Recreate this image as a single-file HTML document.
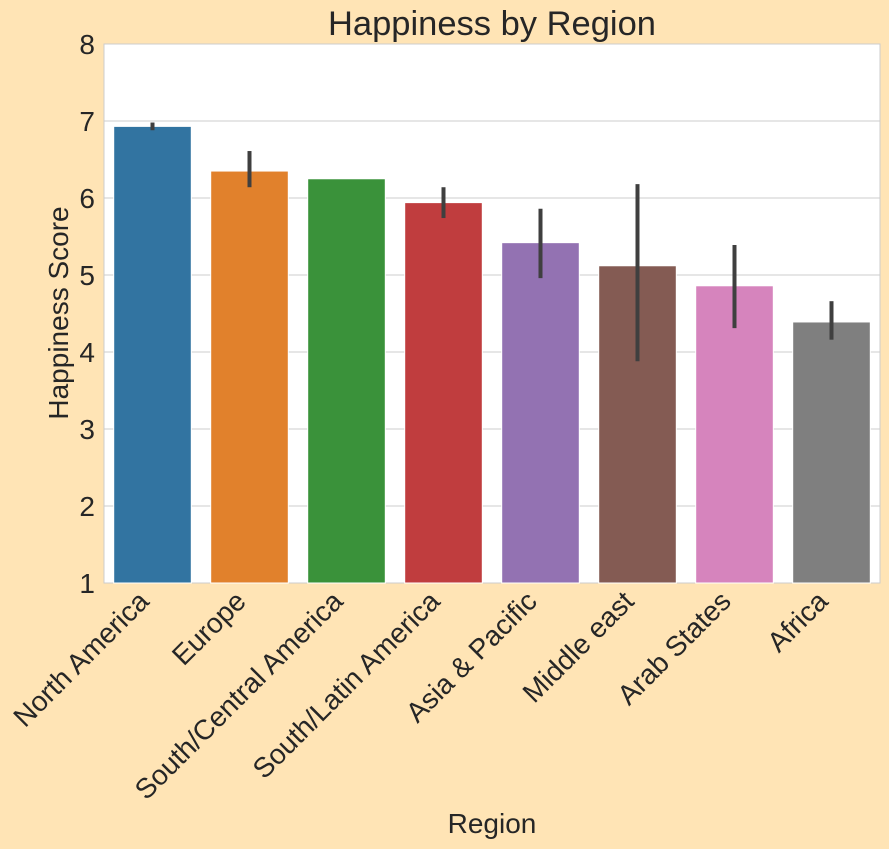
<!DOCTYPE html>
<html><head><meta charset="utf-8"><style>
html,body{margin:0;padding:0;background:#ffe4b5;}
svg{display:block;font-family:"Liberation Sans",Arial,sans-serif;}
</style></head><body>
<svg id="chart" width="889" height="849">
<rect x="0" y="0" width="889" height="849" fill="#ffe4b5"/>
<rect x="104" y="44" width="776" height="539" fill="#ffffff" stroke="#cccccc" stroke-width="1"/>
<g id="grid"></g><g id="bars"></g><g id="errs"></g><g id="yticks"></g><g id="xticks"></g>
<text x="492" y="35" font-size="34.5" text-anchor="middle" fill="#262626">Happiness by Region</text>
<text x="492" y="833" font-size="28" text-anchor="middle" fill="#262626">Region</text>
<text transform="translate(68,313) rotate(-90)" font-size="28" text-anchor="middle" fill="#262626">Happiness Score</text>
</svg>
<script>
const categories=["North America","Europe","South/Central America","South/Latin America","Asia & Pacific","Middle east","Arab States","Africa"];
const values=[6.93,6.35,6.25,5.94,5.42,5.12,4.86,4.39];
const errLow=[6.88,6.14,6.25,5.74,4.96,3.88,4.31,4.16];
const errHigh=[6.98,6.61,6.25,6.14,5.86,6.18,5.39,4.66];
const yTicks=[1,2,3,4,5,6,7,8];
const colors=["#3274a1","#e1812c","#3a923a","#c03d3e","#9372b2","#845b53","#d684bd","#7f7f7f"];
const NS="http://www.w3.org/2000/svg";
const x0=104,x1=880,yTop=44,yBot=583,yMin=1,yMax=8;
const slot=(x1-x0)/categories.length;
const y=v=>yBot-(v-yMin)/(yMax-yMin)*(yBot-yTop);
const xc=i=>x0+slot*(i+0.5);
function mk(tag,attrs,parent){const e=document.createElementNS(NS,tag);for(const k in attrs)e.setAttribute(k,attrs[k]);document.getElementById(parent).appendChild(e);return e;}
yTicks.forEach(t=>{
  if(t>yMin&&t<yMax){const g=mk('line',{x1:x0,x2:x1,y1:y(t),y2:y(t),stroke:'#cccccc','stroke-width':1},'grid');
  
  }
  const l=mk('text',{x:x0-9,y:y(t)+10,'font-size':28,'text-anchor':'end',fill:'#262626'},'yticks');
  l.textContent=t;
  
  
});
categories.forEach((c,i)=>{
  const w=slot*0.8;
  const b=mk('rect',{x:xc(i)-w/2,y:y(values[i]),width:w,height:yBot-y(values[i]),fill:colors[i],stroke:'#ffffff','stroke-width':1},'bars');
  
  
  if(errHigh[i]>errLow[i]){
    const e=mk('line',{x1:xc(i),x2:xc(i),y1:y(errLow[i]),y2:y(errHigh[i]),stroke:'#3f3f3f','stroke-width':4},'errs');
    
    
  }
  const t=mk('text',{transform:`translate(${xc(i)-2},${yBot+20}) rotate(-45)`,'font-size':28,'text-anchor':'end',fill:'#262626'},'xticks');
  t.textContent=c;
  
  
});
</script>
</body></html>
